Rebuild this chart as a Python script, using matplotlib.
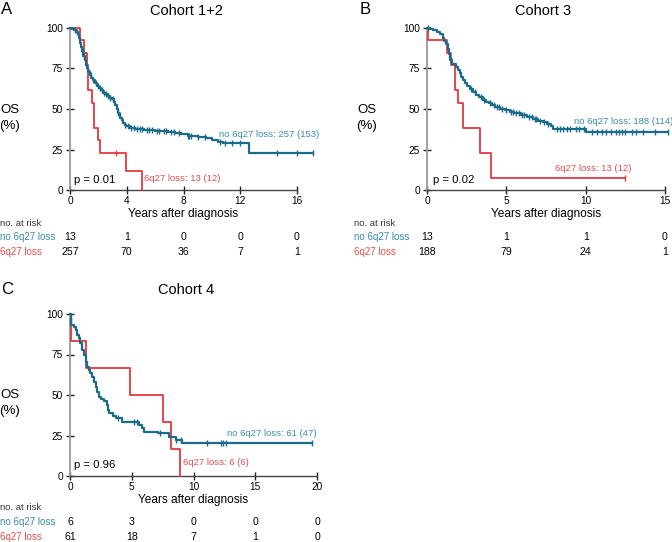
import numpy as np
import matplotlib
matplotlib.use("Agg")
import matplotlib.pyplot as plt
from matplotlib.transforms import blended_transform_factory

plt.rcParams["font.family"] = ["Liberation Sans", "DejaVu Sans"]

TEAL = "#1c6b88"
TEAL_TXT = "#3b8cab"
RED = "#e5383d"
RED_TXT = "#e0504f"

# ---- Cohort 1+2 ----
a_no_t = [0, 0.15, 0.3, 0.45, 0.55, 0.62, 0.7, 0.78, 0.85, 0.95, 1.05, 1.13, 1.22, 1.3,
          1.4, 1.5, 1.6, 1.75, 1.9, 2.05, 2.2, 2.35, 2.5, 2.65, 2.8, 2.95, 3.1, 3.2, 3.28,
          3.36, 3.45, 3.55, 3.65, 3.75, 3.85, 3.95, 4.2, 4.6, 5.2, 6.0, 6.9, 7.4, 7.8, 8.3,
          9.0, 9.6, 10.0, 10.4, 10.8, 12.6, 17.1]
a_no_s = [100, 99.6, 99, 97.5, 96, 94, 91, 88, 86, 83, 80, 77, 75, 73,
          71, 69, 68, 66, 64.5, 63, 61.5, 60, 59, 58, 57, 56, 54.5, 52.5, 50,
          47.5, 46, 44.5, 43, 41.5, 40, 39.2, 38.5, 37.8, 37.2, 36.6, 36, 35.3, 34.5, 33.5,
          33, 32.2, 30.8, 29.8, 28.8, 23, 23]
a_no_cens = [0.35, 0.5, 0.9, 1.0, 1.35, 1.45, 1.65, 1.8, 1.95, 2.1, 2.25, 2.4, 2.55, 2.7,
             2.85, 3.0, 3.4, 3.5, 3.7, 3.9, 4.1, 4.3, 4.5, 4.7, 4.9, 5.1, 5.4, 5.6, 5.8,
             6.1, 6.3, 6.6, 6.8, 7.1, 7.3, 7.7, 8.3, 8.4, 8.5, 9.0, 9.5, 10.6, 10.9, 11.4,
             12.0, 14.6, 16.0, 17.1]
a_loss_t = [0, 0.73, 1.01, 1.2, 1.29, 1.53, 1.67, 1.95, 2.14, 3.96, 5.05]
a_loss_s = [100, 92.3, 84.6, 76.9, 61.5, 53.8, 38.5, 30.8, 23.1, 11.5, 0]
a_loss_cens = [3.25]
a_risk_x = [0, 4, 8, 12, 16]
a_risk_no = [13, 1, 0, 0, 0]
a_risk_loss = [257, 70, 36, 7, 1]

# ---- Cohort 3 ----
b_no_t = [0, 0.2, 0.4, 0.6, 0.8, 1.0, 1.1, 1.2, 1.3, 1.38, 1.45, 1.55, 1.8, 1.95, 2.05,
          2.15, 2.25, 2.4, 2.55, 2.7, 2.9, 3.1, 3.3, 3.5, 3.7, 3.9, 4.1, 4.3, 4.6, 4.9,
          5.2, 5.5, 5.9, 6.3, 6.7, 7.0, 7.3, 7.55, 7.8, 7.95, 10.05, 15.2]
b_no_s = [100, 99.3, 98.6, 97.5, 96.3, 94, 92, 90, 87, 84, 80.5, 77.5, 76, 74, 72,
          70, 68, 66, 64, 62.5, 60.5, 58.8, 57.2, 55.8, 54.6, 53.5, 52.5, 51.5, 50.3, 49.2,
          48.3, 47.5, 46.5, 45.3, 44, 42.8, 41.7, 40.5, 39.2, 37.5, 35.5, 35.5]
b_no_cens = [0.05, 1.5, 2.8, 3.0, 3.4, 3.6, 4.0, 4.2, 4.4, 4.55, 4.7, 5.0, 5.3, 5.4, 5.6,
             5.8, 6.0, 6.1, 6.4, 6.6, 6.8, 6.9, 7.1, 7.4, 7.6, 8.2, 8.4, 8.6, 8.8, 9.0,
             9.4, 9.6, 9.9, 10.4, 10.7, 11.0, 11.3, 11.6, 11.9, 12.1, 12.3, 12.5, 12.9,
             13.2, 13.6, 14.4, 15.2]
b_loss_t = [0, 0.05, 1.28, 1.49, 1.74, 1.95, 2.27, 3.32, 4.03, 12.5]
b_loss_s = [100, 92.3, 84.6, 76.9, 61.5, 53.8, 38.5, 23.1, 7.7, 7.7]
b_loss_cens = [12.5]
b_risk_x = [0, 5, 10, 15]
b_risk_no = [13, 1, 1, 0]
b_risk_loss = [188, 79, 24, 1]

# ---- Cohort 4 ----
c_no_t = [0, 0.05, 0.12, 0.3, 0.45, 0.6, 0.72, 0.85, 0.99, 1.1, 1.26, 1.4, 1.53, 1.65,
          1.8, 1.95, 2.07, 2.2, 2.35, 2.5, 2.75, 3.02, 3.1, 3.16, 3.5, 3.7, 4.24, 5.55,
          5.8, 6.0, 7.1, 8.0, 8.55, 9.1, 19.6]
c_no_s = [100, 96, 93, 91.8, 90, 87, 85, 82, 78, 75, 70.5, 67, 65.4, 63.5,
          61, 58, 55, 52, 49, 47.5, 46, 43.8, 41, 38.7, 37, 35.6, 33.5, 31.5,
          29.5, 27.4, 26.3, 24.3, 22.5, 20.6, 20.6]
c_no_cens = [0.08, 3.9, 5.2, 5.45, 7.3, 8.6, 9.0, 11.1, 12.2, 12.4, 12.6, 19.6]
c_loss_t = [0, 0.12, 1.31, 4.82, 7.52, 8.14, 8.87]
c_loss_s = [100, 83.3, 66.7, 50, 33.3, 16.7, 0]
c_loss_cens = []
c_risk_x = [0, 5, 10, 15, 20]
c_risk_no = [6, 3, 0, 0, 0]
c_risk_loss = [61, 18, 7, 1, 0]

W, H = 672, 542
fig = plt.figure(figsize=(W / 100, H / 100), dpi=100)


def px_axes(x0, x1, y_top, y_bot):
    return fig.add_axes([x0 / W, 1 - y_bot / H, (x1 - x0) / W, (y_bot - y_top) / H])


def surv_at(times, surv, t):
    idx = np.searchsorted(np.asarray(times), t, side="right") - 1
    return np.asarray(surv)[idx]


def km_panel(ax, xmax, xticks, no_t, no_s, no_c, loss_t, loss_s, loss_c):
    ax.step(loss_t, loss_s, where="post", color=RED, lw=1.3, clip_on=False, zorder=3)
    if loss_c:
        ax.plot(loss_c, surv_at(loss_t, loss_s, loss_c), ls="none", marker="|",
                ms=5, mew=1.0, color=RED, clip_on=False, zorder=3)
    ax.step(no_t, no_s, where="post", color=TEAL, lw=1.6, clip_on=False, zorder=4)
    ax.plot(no_c, surv_at(no_t, no_s, no_c), ls="none", marker="|",
            ms=5, mew=1.0, color=TEAL, clip_on=False, zorder=4)
    ax.set_xlim(0, xmax)
    ax.set_ylim(0, 100)
    ax.set_xticks(xticks)
    ax.set_yticks([0, 25, 50, 75, 100])
    for s in ("top", "right"):
        ax.spines[s].set_visible(False)
    ax.spines["left"].set_color("#9a9a9a")
    ax.spines["left"].set_linewidth(1.3)
    ax.spines["bottom"].set_color("#444444")
    ax.spines["bottom"].set_linewidth(1.0)
    ax.tick_params(direction="inout", length=6, width=1.0, labelsize=7.3,
                   color="#222222", pad=1.5)
    ax.tick_params(axis="y", pad=2)
    ax.text(0.5, -0.148, "Years after diagnosis", transform=ax.transAxes,
            ha="center", va="center", fontsize=8.6)


def risk_table(ax, lab_x, y_rows, xs, no_vals, loss_vals):
    tr = blended_transform_factory(ax.transData, fig.transFigure)
    fig.text(lab_x / W, 1 - y_rows[0] / H, "no. at risk", fontsize=6.8,
             ha="left", va="center", color="#333333")
    fig.text(lab_x / W, 1 - y_rows[1] / H, "no 6q27 loss", fontsize=7,
             ha="left", va="center", color=TEAL_TXT)
    fig.text(lab_x / W, 1 - y_rows[2] / H, "6q27 loss", fontsize=7,
             ha="left", va="center", color=RED_TXT)
    for x, n1, n2 in zip(xs, no_vals, loss_vals):
        ax.text(x, 1 - y_rows[1] / H, str(n1), transform=tr, ha="center",
                va="center", fontsize=7.6)
        ax.text(x, 1 - y_rows[2] / H, str(n2), transform=tr, ha="center",
                va="center", fontsize=7.6)


# Panel A
axA = px_axes(70, 297, 28, 190)
km_panel(axA, 16, [0, 4, 8, 12, 16], a_no_t, a_no_s, a_no_cens,
         a_loss_t, a_loss_s, a_loss_cens)
axA.text(10.5, 34.5, "no 6q27 loss: 257 (153)", color=TEAL_TXT, fontsize=6.8,
         ha="left", va="center", clip_on=False)
axA.text(5.2, 7.4, "6q27 loss: 13 (12)", color=RED_TXT, fontsize=6.8,
         ha="left", va="center")
axA.text(0.3, 6, "p = 0.01", fontsize=8.2, ha="left", va="center")
risk_table(axA, 0, [223, 237, 252], a_risk_x, a_risk_no, a_risk_loss)
fig.text(186 / W, 1 - 11 / H, "Cohort 1+2", fontsize=10.5, ha="center", va="center")
fig.text(1 / W, 1 - 10 / H, "A", fontsize=12, ha="left", va="center")
fig.text(10 / W, 1 - 110 / H, "OS", fontsize=9.5, ha="center", va="center")
fig.text(10 / W, 1 - 126 / H, "(%)", fontsize=9.5, ha="center", va="center")

# Panel B
axB = px_axes(427, 665, 28, 190)
km_panel(axB, 15, [0, 5, 10, 15], b_no_t, b_no_s, b_no_cens,
         b_loss_t, b_loss_s, b_loss_cens)
axB.text(9.26, 42, "no 6q27 loss: 188 (114)", color=TEAL_TXT, fontsize=6.8,
         ha="left", va="center", clip_on=False)
axB.text(8.07, 13, "6q27 loss: 13 (12)", color=RED_TXT, fontsize=6.8,
         ha="left", va="center")
axB.text(0.38, 6, "p = 0.02", fontsize=8.2, ha="left", va="center")
risk_table(axB, 354, [223, 237, 252], b_risk_x, b_risk_no, b_risk_loss)
fig.text(543 / W, 1 - 11 / H, "Cohort 3", fontsize=10.5, ha="center", va="center")
fig.text(360 / W, 1 - 9 / H, "B", fontsize=12, ha="left", va="center")
fig.text(367 / W, 1 - 110 / H, "OS", fontsize=9.5, ha="center", va="center")
fig.text(367 / W, 1 - 126 / H, "(%)", fontsize=9.5, ha="center", va="center")

# Panel C
axC = px_axes(70, 317, 314, 476)
km_panel(axC, 20, [0, 5, 10, 15, 20], c_no_t, c_no_s, c_no_cens,
         c_loss_t, c_loss_s, c_loss_cens)
axC.text(12.7, 26, "no 6q27 loss: 61 (47)", color=TEAL_TXT, fontsize=6.8,
         ha="left", va="center", clip_on=False)
axC.text(9.15, 8.6, "6q27 loss: 6 (6)", color=RED_TXT, fontsize=6.8,
         ha="left", va="center")
axC.text(0.3, 6.8, "p = 0.96", fontsize=8.2, ha="left", va="center")
risk_table(axC, 0, [507, 522, 537], c_risk_x, c_risk_no, c_risk_loss)
fig.text(186 / W, 1 - 290 / H, "Cohort 4", fontsize=10.5, ha="center", va="center")
fig.text(1 / W, 1 - 290 / H, "C", fontsize=12, ha="left", va="center")
fig.text(10 / W, 1 - 395 / H, "OS", fontsize=9.5, ha="center", va="center")
fig.text(10 / W, 1 - 411 / H, "(%)", fontsize=9.5, ha="center", va="center")

fig.savefig("out.png", dpi=100)
